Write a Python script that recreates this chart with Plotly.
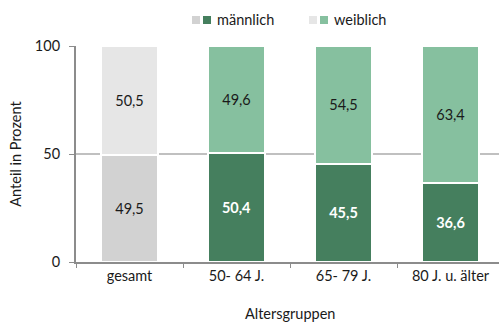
import plotly.graph_objects as go

# Anteile nach Geschlecht je Altersgruppe (in Prozent)
gruppen = ["gesamt", "50- 64 J.", "65- 79 J.", "80 J. u. älter"]
maennlich = [49.5, 50.4, 45.5, 36.6]
weiblich = [50.5, 49.6, 54.5, 63.4]

farbe_m = ["#d2d2d2", "#457f5e", "#457f5e", "#457f5e"]
farbe_w = ["#e6e6e6", "#86c09f", "#86c09f", "#86c09f"]
text_m = ["#1a1a1a", "white", "white", "white"]

FONT = "Lato"
FS = 14.5

def fmt(v):
    return f"{v:.1f}".replace(".", ",")

fig = go.Figure()
fig.add_trace(go.Bar(
    x=gruppen, y=maennlich, name="männlich",
    marker=dict(color=farbe_m, line=dict(color="white", width=2)),
    text=[f"<b>{fmt(v)}</b>" if i > 0 else fmt(v) for i, v in enumerate(maennlich)],
    textposition="inside", insidetextanchor="middle",
    textfont=dict(family=FONT, size=FS, color=text_m),
    width=0.54, showlegend=False, hoverinfo="skip",
))
fig.add_trace(go.Bar(
    x=gruppen, y=weiblich, name="weiblich",
    marker=dict(color=farbe_w, line=dict(color="white", width=2)),
    text=[fmt(v) for v in weiblich],
    textposition="inside", insidetextanchor="middle",
    textfont=dict(family=FONT, size=FS, color="#1a1a1a"),
    width=0.54, showlegend=False, hoverinfo="skip",
))

# Legende: je zwei Farbkästchen vor dem Text
legende = [
    (192, ["#d2d2d2", "#457f5e"], "männlich"),
    (309, ["#e6e6e6", "#86c09f"], "weiblich"),
]
W, H = 499, 324
shapes = []
annotations = []
for x0, farben, label in legende:
    for k, c in enumerate(farben):
        xa = x0 + k * 11
        shapes.append(dict(type="rect", xref="paper", yref="paper",
                           x0=(xa - 76) / (W - 76), x1=(xa + 8 - 76) / (W - 76),
                           y0=(262 - 24) / 216, y1=(262 - 16) / 216,
                           fillcolor=c, line=dict(width=0), layer="above"))
    annotations.append(dict(xref="paper", yref="paper",
                            x=(x0 + 23 - 76) / (W - 76), y=(262 - 20) / 216,
                            text=label, showarrow=False, xanchor="left", yanchor="middle",
                            font=dict(family=FONT, size=FS, color="#1a1a1a")))

annotations.append(dict(xref="paper", yref="paper", x=(290 - 76) / (W - 76),
                        y=(262 - 313) / 216, text="Altersgruppen", showarrow=False,
                        xanchor="center", yanchor="middle",
                        font=dict(family=FONT, size=FS, color="#1a1a1a")))

fig.update_layout(
    barmode="stack",
    width=W, height=H,
    margin=dict(l=76, r=0, t=46, b=62),
    paper_bgcolor="white", plot_bgcolor="white",
    font=dict(family=FONT, size=FS, color="#1a1a1a"),
    shapes=shapes, annotations=annotations,
    xaxis=dict(
        type="category", range=[-0.5, (W - 76) / 107 - 0.5],
        tickson="boundaries", ticks="outside", ticklen=4, tickcolor="#8c8c8c",
        showline=True, linecolor="#8c8c8c", linewidth=2,
        showgrid=False, tickfont=dict(family=FONT, size=FS, color="#1a1a1a"),
    ),
    yaxis=dict(
        range=[0, 100], tickvals=[0, 50, 100],
        ticks="outside", ticklen=5, tickcolor="#8c8c8c",
        showline=True, linecolor="#8c8c8c", linewidth=2,
        showgrid=True, gridcolor="#c0c0c0", gridwidth=2,
        zeroline=False, ticklabelstandoff=6,
        title=dict(text="Anteil in Prozent", standoff=10,
                   font=dict(family=FONT, size=FS, color="#1a1a1a")),
        tickfont=dict(family=FONT, size=FS, color="#1a1a1a"),
    ),
)

fig.write_html("out.html")
